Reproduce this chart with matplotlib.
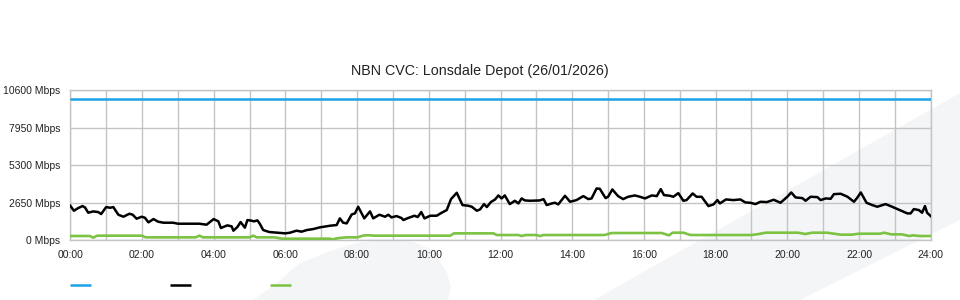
import matplotlib
matplotlib.use("Agg")
import matplotlib.pyplot as plt
from matplotlib.patches import Polygon
from matplotlib.lines import Line2D

plt.rcParams['font.family'] = ['Liberation Sans', 'DejaVu Sans']

title = "NBN CVC: Lonsdale Depot (26/01/2026)"
y_ticks = [0, 2650, 5300, 7950, 10600]
y_tick_labels = ["0 Mbps", "2650 Mbps", "5300 Mbps", "7950 Mbps", "10600 Mbps"]
x_major = list(range(0, 25, 2))
x_tick_labels = ["%02d:00" % h for h in x_major]

capacity_t = [0.0, 24.0]
capacity_v = [10000, 10000]

black_t = [0.00,0.10,0.22,0.34,0.41,0.50,0.64,0.78,0.86,1.00,1.11,1.20,1.34,1.48,1.65,1.74,1.85,1.99,
           2.08,2.18,2.32,2.45,2.60,2.87,3.00,3.60,3.80,4.00,4.13,4.20,4.38,4.50,4.55,4.66,4.75,4.87,
           4.94,5.06,5.12,5.22,5.29,5.38,5.55,5.76,6.00,6.13,6.31,6.45,6.60,6.78,6.96,
           7.25,7.43,7.52,7.61,7.71,7.85,7.94,8.03,8.20,8.36,8.45,8.62,8.78,8.87,8.96,9.10,9.24,9.29,
           9.42,9.60,9.69,9.79,9.88,10.04,10.22,10.36,10.50,10.62,10.78,10.94,11.10,11.20,11.34,11.43,
           11.54,11.62,11.73,11.85,11.94,12.03,12.12,12.26,12.40,12.50,12.59,12.68,12.82,13.10,13.20,
           13.29,13.43,13.52,13.61,13.80,13.94,14.12,14.31,14.45,14.54,14.68,14.77,14.93,15.00,15.12,
           15.28,15.42,15.56,15.75,15.89,
           16.03,16.22,16.36,16.47,16.56,16.73,16.82,16.96,17.10,17.19,17.36,17.47,17.61,17.80,17.94,
           18.05,18.12,18.29,18.50,18.69,18.83,18.97,19.11,19.25,19.43,19.62,19.81,20.00,20.11,20.23,
           20.42,20.51,20.65,20.84,20.93,21.07,21.21,21.30,21.49,21.68,21.86,21.95,22.05,22.21,22.37,
           22.51,22.74,22.88,23.07,23.35,23.44,23.53,23.67,23.76,23.84,23.90,24.00]
black_v = [2427,2073,2262,2403,2309,1932,2026,1979,1838,2332,2285,2332,1791,1649,1861,1791,1508,1649,
           1579,1249,1484,1296,1225,1225,1154,1154,1084,1484,1319,848,1037,966,660,919,1272,872,
           1414,1366,1319,1390,1131,707,565,518,471,518,660,589,707,777,895,
           1013,1060,1531,1225,1178,1814,1885,2356,1531,2026,1531,1791,1649,1791,1602,1696,1555,1414,
           1555,1720,1626,1979,1531,1720,1720,1932,2120,2898,3346,2474,2427,2356,2073,2168,
           2544,2332,2686,2874,3157,2945,3157,2544,2780,2592,2945,2804,2780,2804,2898,
           2474,2592,2639,2521,3133,2709,2827,3110,2898,2945,3652,3628,2969,3063,3581,
           3110,2898,3063,3157,3063,
           2945,3157,3110,3605,3181,3133,3063,3322,2780,2827,3298,3063,3063,2403,2521,
           2827,2592,2874,2827,2874,2662,2639,2544,2709,2686,2851,2639,3063,3369,3016,
           2969,2780,3063,3039,2827,2945,2921,3251,3275,3063,2709,2992,3369,2639,2474,
           2356,2544,2403,2191,1885,1885,2191,2120,1932,2403,1932,1696]

green_t = [0.0,0.55,0.64,0.75,2.0,2.1,3.5,3.6,3.7,5.0,5.1,5.2,5.7,5.9,7.0,7.25,7.3,7.5,7.7,8.0,
           8.2,8.4,8.45,10.6,10.7,11.8,11.9,12.5,12.59,12.7,13.0,13.1,13.2,14.9,15.1,16.5,16.7,
           16.8,17.1,17.3,19.0,19.2,19.4,20.3,20.5,20.7,21.1,21.3,21.5,21.8,22.0,22.6,22.7,22.9,
           23.2,23.4,23.5,23.7,24.0]
green_v = [283,283,165,306,306,188,188,306,188,188,306,188,188,94,94,94,47,140,188,188,
           330,330,306,306,471,471,353,353,283,353,353,283,353,353,495,495,330,
           518,518,353,353,424,518,518,424,518,518,447,377,377,447,447,518,400,
           400,283,330,283,283]

BLUE = '#1ba3e6'
BLACK = '#000000'
GREEN = '#7cc243'
GRID = '#c4c4c4'
DECOR = '#f4f5f7'

W, H = 960, 300
fig = plt.figure(figsize=(9.6, 3.0), dpi=100)
fig.patch.set_facecolor('white')

# background axes for decorative shapes (pixel coordinates, y downwards)
bg = fig.add_axes([0, 0, 1, 1], zorder=-5)
bg.set_xlim(0, W)
bg.set_ylim(H, 0)
bg.axis('off')
band_pts = [(594, 300), (960, 93), (960, 220), (800, 300)]
swoosh_pts = [(253, 300), (277, 283), (300, 263), (333, 250), (357, 243), (383, 240),
              (413, 242), (433, 250), (447, 273), (451, 287), (448, 300)]
bg.add_patch(Polygon(band_pts, closed=True, facecolor=DECOR, edgecolor='none'))
bg.add_patch(Polygon(swoosh_pts, closed=True, facecolor=DECOR, edgecolor='none'))

left, right = 70.3, 930.7
top, bottom = 90.4, 240.0
ax = fig.add_axes([left / W, 1 - bottom / H, (right - left) / W, (bottom - top) / H], zorder=1)
ax.set_facecolor('none')

ax.plot(capacity_t, capacity_v, color=BLUE, lw=1.8, zorder=3, solid_capstyle='butt')
ax.plot(green_t, green_v, color=GREEN, lw=1.9, zorder=3)
ax.plot(black_t, black_v, color=BLACK, lw=1.8, zorder=4)

ax.set_xlim(0, 24)
ax.set_ylim(0, 10600)
ax.set_xticks(x_major)
ax.set_xticklabels(x_tick_labels)
ax.set_xticks(list(range(0, 25)), minor=True)
ax.set_yticks(y_ticks)
ax.set_yticklabels(y_tick_labels)
ax.tick_params(axis='both', which='both', length=0, labelsize=7.5, colors='#222222')
ax.tick_params(axis='x', pad=7)
ax.tick_params(axis='y', pad=7)
ax.grid(True, which='both', color=GRID, lw=1.0)
ax.set_axisbelow(True)
for s in ax.spines.values():
    s.set_color(GRID)
    s.set_linewidth(1.0)

fig.text(480 / W, 1 - 71 / H, title, ha='center', va='center', fontsize=10.3, color='#222222')

# legend swatches (no labels)
for x0, c in [(70, BLUE), (170, BLACK), (270, GREEN)]:
    fig.add_artist(Line2D([x0 / W, (x0 + 21) / W], [1 - 285 / H] * 2, color=c, lw=1.8,
                          transform=fig.transFigure, solid_capstyle='butt'))

fig.savefig('out.png', dpi=100)
